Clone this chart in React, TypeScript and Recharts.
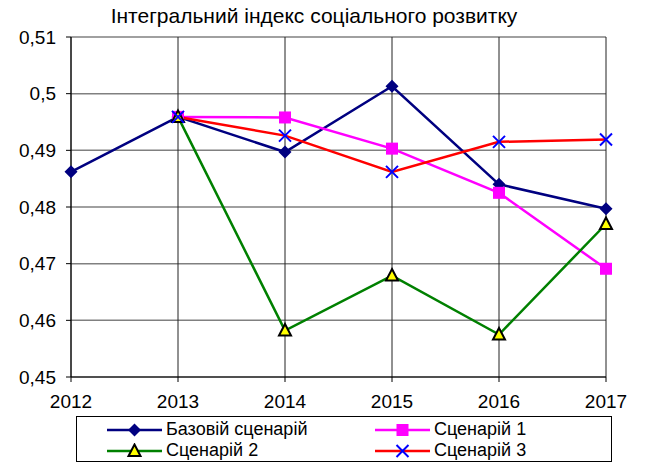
import { LineChart, Line, XAxis, YAxis, CartesianGrid, Legend } from "recharts";

const years = [2012, 2013, 2014, 2015, 2016, 2017];
const baseScenario = [0.4862, 0.4959, 0.4897, 0.5013, 0.484, 0.4797];
const scenario1 = [null, 0.4959, 0.4958, 0.4903, 0.4825, 0.4691];
const scenario2 = [null, 0.4959, 0.4582, 0.4679, 0.4575, 0.477];
const scenario3 = [null, 0.4959, 0.4926, 0.4862, 0.4915, 0.4919];
const yTicks = [0.45, 0.46, 0.47, 0.48, 0.49, 0.5, 0.51];

const data = years.map((y, i) => ({
  year: y,
  base: baseScenario[i],
  s1: scenario1[i],
  s2: scenario2[i],
  s3: scenario3[i],
}));

const font = "'Liberation Sans', Arial, sans-serif";

function Diamond({ cx, cy }: any) {
  if (cx == null || cy == null) return null;
  const r = 6.5;
  return <path d={`M${cx},${cy - r}L${cx + r},${cy}L${cx},${cy + r}L${cx - r},${cy}Z`} fill="#000080" />;
}

function Square({ cx, cy }: any) {
  if (cx == null || cy == null) return null;
  return <rect x={cx - 6} y={cy - 6} width={12} height={12} fill="#FF00FF" />;
}

function Triangle({ cx, cy }: any) {
  if (cx == null || cy == null) return null;
  return (
    <path
      d={`M${cx},${cy - 6.5}L${cx + 6},${cy + 5}L${cx - 6},${cy + 5}Z`}
      fill="#FFFF00"
      stroke="#000"
      strokeWidth={2}
    />
  );
}

function Cross({ cx, cy }: any) {
  if (cx == null || cy == null) return null;
  const r = 6;
  return (
    <path
      d={`M${cx - r},${cy - r}L${cx + r},${cy + r}M${cx - r},${cy + r}L${cx + r},${cy - r}`}
      stroke="#0000FF"
      strokeWidth={2}
    />
  );
}

const legendItems = [
  { name: "Базовій сценарій", color: "#000080", Marker: Diamond },
  { name: "Сценарій 1", color: "#FF00FF", Marker: Square },
  { name: "Сценарій 2", color: "#008000", Marker: Triangle },
  { name: "Сценарій 3", color: "#FF0000", Marker: Cross },
];

function LegendBox() {
  return (
    <div
      style={{
        boxSizing: "border-box",
        width: 536,
        height: 46,
        border: "1px solid #000",
        display: "grid",
        gridTemplateColumns: "268px 266px",
        paddingTop: 2,
        fontFamily: font,
        fontSize: 18,
        background: "#fff",
      }}
    >
      {legendItems.map(({ name, color, Marker }) => (
        <div key={name} style={{ display: "flex", alignItems: "center", height: 21, paddingLeft: 30 }}>
          <svg width={55} height={16}>
            <line x1={0} y1={8} x2={55} y2={8} stroke={color} strokeWidth={2.5} />
            <Marker cx={27.5} cy={8} />
          </svg>
          <span style={{ marginLeft: 4 }}>{name}</span>
        </div>
      ))}
    </div>
  );
}

export default function App() {
  return (
    <div style={{ position: "absolute", left: 0, top: 0, width: 647, height: 465, background: "#fff" }}>
      <div
        style={{
          position: "absolute",
          left: 0,
          top: 4,
          width: 628,
          textAlign: "center",
          fontFamily: font,
          fontSize: 21,
          whiteSpace: "nowrap",
        }}
      >
        Інтегральний індекс соціального розвитку
      </div>
      <LineChart width={647} height={465} data={data} margin={{ top: 37, right: 41, bottom: 3, left: 0 }}>
        <CartesianGrid vertical={false} stroke="#808080" strokeWidth={1.5} />
        <CartesianGrid horizontal={false} stroke="#222" strokeWidth={1} />
        <XAxis
          dataKey="year"
          height={39}
          stroke="#000"
          tickSize={5}
          tickMargin={13}
          tick={{ fill: "#000", fontSize: 19, fontFamily: font }}
        />
        <YAxis
          domain={[0.45, 0.51]}
          ticks={yTicks}
          width={71}
          stroke="#000"
          tickSize={5}
          tickMargin={10}
          tickFormatter={(v: number) => String(v).replace(".", ",")}
          tick={{ fill: "#000", fontSize: 19, fontFamily: font }}
          allowDataOverflow
        />
        <Legend
          verticalAlign="bottom"
          content={() => <LegendBox />}
          wrapperStyle={{ left: 76, width: 536 }}
        />
        <Line dataKey="base" stroke="#000080" strokeWidth={2.5} dot={(p: any) => <Diamond key={p.index} {...p} />} isAnimationActive={false} />
        <Line dataKey="s1" stroke="#FF00FF" strokeWidth={2.5} dot={(p: any) => <Square key={p.index} {...p} />} isAnimationActive={false} />
        <Line dataKey="s2" stroke="#008000" strokeWidth={2.5} dot={(p: any) => <Triangle key={p.index} {...p} />} isAnimationActive={false} />
        <Line dataKey="s3" stroke="#FF0000" strokeWidth={2.5} dot={(p: any) => <Cross key={p.index} {...p} />} isAnimationActive={false} />
      </LineChart>
    </div>
  );
}
